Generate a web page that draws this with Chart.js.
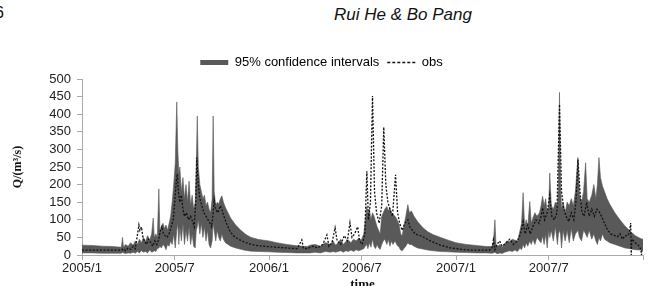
<!DOCTYPE html>
<html>
<head>
<meta charset="utf-8">
<script src="https://cdn.jsdelivr.net/npm/chart.js@4.4.0/dist/chart.umd.min.js"></script>
<style>
  html, body { margin: 0; padding: 0; background: #fff; overflow: hidden; }
  #wrap { position: relative; width: 649px; height: 286px; overflow: hidden; }
  #page { position: absolute; left: -5px; top: 4px; font: 16px "Liberation Sans", Arial, sans-serif; color: #111; }
  #header { position: absolute; left: 334px; top: 5px; font: italic 17px "Liberation Sans", Arial, sans-serif; color: #111; }
  canvas { position: absolute; left: 0; top: 0; }
</style>
</head>
<body>
<div id="wrap">
  <div id="page">6</div>
  <div id="header">Rui He &amp; Bo Pang</div>
  <canvas id="chart" width="649" height="302"></canvas>
</div>
<script>
// days counted from 2005/1/1
const tickDays = [0, 181, 365, 546, 730, 911, 1095];
const tickLabels = ['2005/1', '2005/7', '2006/1', '2006/7', '2007/1', '2007/7', ''];

// 95% confidence band (upper / lower bound)
const bandDays = [
  0, 20, 40, 60, 77, 79, 81, 85, 90, 95, 100, 104, 108, 112, 116, 120, 124, 128, 132, 136,
  139, 141, 144, 147, 150, 152, 155, 158, 161, 164, 167, 170, 173, 176, 179, 182, 185, 187, 189, 191,
  194, 197, 200, 203, 206, 209, 212, 215, 218, 221, 223, 225, 227, 230, 233, 236, 239, 242, 245, 248,
  251, 254, 256, 258, 261, 264, 267, 270, 273, 276, 280, 285, 290, 300, 310, 320, 330, 345, 365, 380,
  400, 420, 440,
  445, 455, 465, 475, 485, 490, 495, 500, 505, 510, 515, 520, 525, 530, 535, 540, 545, 550, 553, 556,
  558, 561, 564, 567, 570, 573, 576, 579, 582, 585, 588, 591, 595, 598, 601, 604, 607, 611, 615, 619,
  622, 625, 628, 632, 636, 639, 643, 648, 655, 665, 675, 685, 700, 715, 730, 750, 770, 790,
  800, 803, 806, 808, 812, 816, 820, 825, 830, 835, 840, 845, 850, 855, 858, 861, 864, 867, 870, 874,
  877, 880, 884, 888, 893, 896, 899, 902, 905, 908, 911, 913, 916, 920, 924, 928, 930, 932, 934, 936,
  939, 943, 947, 951, 955, 959, 963, 968, 971, 975, 979, 983, 986, 990, 995, 999, 1003, 1006, 1009, 1012,
  1016, 1020, 1025, 1030, 1040, 1050, 1060, 1070, 1080, 1090, 1095
];
const upper = [
  28, 27, 25, 24, 22, 50, 22, 30, 25, 35, 28, 40, 30, 45, 35, 50, 38, 55, 42, 60,
  105, 50, 60, 50, 188, 70, 80, 90, 75, 85, 70, 90, 110, 150, 200, 260, 435, 300, 230, 250,
  180, 220, 160, 200, 150, 210, 140, 170, 130, 150, 250, 395, 250, 200, 180, 160, 170, 140, 150, 130,
  120, 160, 395, 180, 140, 150, 145, 160, 168, 150, 135, 120, 105, 85, 70, 58, 50, 44, 40, 35,
  30, 26, 24,
  28, 30, 25, 35, 30, 40, 28, 35, 45, 30, 38, 42, 35, 45, 40, 48, 42, 60, 100, 138,
  110, 130, 100, 120, 110, 95, 80, 70, 60, 110, 120, 130, 138, 125, 134, 120, 115, 110, 100, 85,
  60, 55, 80, 110, 143, 120, 125, 110, 95, 78, 66, 58, 50, 42, 35, 30, 27, 24,
  24, 35, 100, 30, 25, 30, 22, 32, 40, 38, 45, 42, 40, 70, 90, 177, 80, 100, 80, 152,
  90, 105, 120, 110, 120, 140, 167, 140, 160, 120, 140, 233, 140, 130, 150, 140, 200, 462, 200, 130,
  150, 120, 150, 140, 160, 140, 180, 277, 170, 150, 180, 262, 160, 150, 170, 200, 160, 200, 277, 220,
  195, 180, 160, 145, 120, 100, 82, 68, 55, 47, 45
];
const lower = [
  6, 6, 5, 5, 5, 8, 6, 4, 6, 5, 8, 5, 10, 6, 12, 8, 10, 6, 14, 8,
  10, 12, 10, 18, 20, 25, 20, 30, 25, 15, 30, 25, 40, 30, 60, 20, 70, 90, 30, 80,
  40, 90, 30, 70, 40, 80, 30, 60, 25, 20, 70, 80, 100, 60, 90, 50, 80, 40, 70, 30,
  20, 40, 90, 70, 40, 70, 50, 40, 60, 45, 35, 30, 25, 20, 16, 13, 11, 10, 9, 8,
  7, 6, 6,
  6, 8, 6, 10, 8, 10, 8, 10, 12, 8, 12, 10, 14, 10, 15, 12, 15, 18, 25, 30,
  18, 35, 22, 45, 25, 18, 30, 20, 16, 30, 40, 45, 30, 45, 25, 40, 30, 40, 28, 22,
  14, 12, 18, 25, 35, 30, 30, 25, 20, 17, 14, 12, 10, 9, 8, 7, 6, 6,
  5, 6, 8, 5, 4, 6, 4, 8, 10, 12, 10, 14, 10, 20, 15, 30, 20, 35, 25, 40,
  30, 45, 30, 50, 40, 35, 55, 30, 60, 20, 70, 50, 70, 40, 80, 30, 60, 70, 60, 20,
  70, 40, 70, 35, 75, 40, 60, 70, 50, 40, 70, 60, 50, 70, 45, 60, 40, 30, 50, 40,
  60, 45, 40, 35, 30, 25, 20, 18, 15, 14, 14
];

// observed discharge
const obsDays = [
  0, 30, 60, 78, 80, 85, 90, 95, 100, 104, 108, 111, 113, 116, 119, 122, 126, 130, 134, 138,
  142, 146, 150, 153, 156, 159, 162, 166, 170, 174, 178, 181, 184, 186, 188, 191, 194, 197, 200, 204,
  208, 212, 216, 219, 222, 224, 227, 230, 234, 238, 242, 246, 250, 253, 256, 258, 261, 265, 270, 273,
  277, 282, 288, 295, 305, 315, 330, 345, 361, 380, 400, 420, 429, 432, 440, 450, 460, 470, 478, 482,
  488, 494, 498, 505, 512, 518, 523, 527, 532, 538, 542, 547, 552, 556, 559, 563, 567, 571, 575, 580,
  585, 589, 593, 597, 601, 606, 612, 616, 620, 625, 630, 636, 640, 650, 665, 680, 699, 720, 740, 760,
  780, 796, 800, 803, 806, 810, 815, 820, 828, 835, 842, 850, 856, 861, 865, 870, 875, 880, 886, 892,
  896, 899, 903, 908, 913, 917, 922, 927, 932, 936, 940, 945, 950, 955, 960, 964, 968, 972, 976, 980,
  985, 990, 995, 1000, 1005, 1009, 1014, 1020, 1026, 1032, 1040, 1045, 1050, 1055, 1060, 1066, 1069, 1071, 1072, 1073,
  1080, 1088, 1091, 1092, 1093, 1095
];
const obs = [
  14, 14, 14, 14, 18, 12, 20, 16, 25, 18, 55, 85, 70, 80, 50, 40, 30, 45, 35, 25,
  40, 30, 45, 70, 81, 60, 55, 50, 60, 80, 100, 150, 210, 230, 180, 150, 170, 130, 110, 120,
  100, 110, 95, 80, 150, 277, 200, 160, 140, 120, 110, 100, 90, 80, 120, 157, 130, 120, 140, 130,
  110, 90, 70, 55, 45, 38, 30, 26, 24, 22, 20, 18, 43, 20, 18, 25, 20, 30, 57, 25,
  35, 77, 40, 30, 55, 40, 91, 50, 60, 80, 40, 30, 60, 238, 100, 150, 452, 180, 120, 90,
  140, 363, 200, 150, 130, 110, 228, 120, 90, 70, 90, 100, 80, 60, 52, 40, 28, 20, 16, 14,
  14, 14, 20, 43, 15, 30, 40, 25, 35, 45, 30, 40, 60, 95, 60, 85, 60, 80, 100, 90,
  110, 134, 100, 120, 171, 110, 100, 120, 428, 180, 134, 110, 95, 120, 100, 150, 271, 180, 120, 110,
  150, 110, 130, 110, 130, 124, 110, 90, 71, 60, 55, 52, 60, 45, 55, 55, 70, 91, 0, 45,
  35, 25, 14, 0, 15, 14
];

const bandColor = '#595959';
const sans = '"Liberation Sans", Arial, sans-serif';
const serif = '"Liberation Serif", "Times New Roman", serif';

const toPoints = (xs, ys) => xs.map((d, i) => ({ x: d, y: ys[i] }));

new Chart(document.getElementById('chart'), {
  type: 'line',
  data: {
    datasets: [
      {
        label: 'obs',
        data: toPoints(obsDays, obs),
        borderColor: '#111',
        borderWidth: 1.3,
        borderDash: [2, 1.6],
        pointRadius: 0,
        fill: false,
        order: 0
      },
      {
        label: '95% confidence intervals',
        data: toPoints(bandDays, upper),
        borderColor: bandColor,
        borderWidth: 0.6,
        backgroundColor: bandColor,
        pointRadius: 0,
        fill: '+1',
        order: 1
      },
      {
        label: 'lower',
        data: toPoints(bandDays, lower),
        borderColor: bandColor,
        borderWidth: 0.6,
        pointRadius: 0,
        fill: false,
        order: 2
      }
    ]
  },
  options: {
    responsive: false,
    devicePixelRatio: 1,
    animation: false,
    layout: { padding: { top: 48, right: 6, bottom: 0, left: 0 } },
    plugins: {
      tooltip: { enabled: false },
      legend: {
        position: 'top',
        labels: {
          usePointStyle: true,
          pointStyleWidth: 28,
          boxHeight: 5,
          padding: 8,
          color: '#222',
          font: { family: sans, size: 13 },
          generateLabels: () => [
            { text: '95% confidence intervals', fillStyle: bandColor, strokeStyle: bandColor, lineWidth: 0, pointStyle: 'rect', datasetIndex: 1 },
            { text: 'obs', fillStyle: 'rgba(0,0,0,0)', strokeStyle: '#111', lineWidth: 1.3, lineDash: [3, 2], pointStyle: 'line', datasetIndex: 0 }
          ]
        }
      }
    },
    scales: {
      x: {
        type: 'linear',
        min: 0,
        max: 1095,
        afterBuildTicks: s => { s.ticks = tickDays.map(v => ({ value: v })); },
        afterFit: s => { s.height = 47; },
        ticks: {
          autoSkip: false,
          maxRotation: 0,
          padding: 1,
          color: '#222',
          font: { family: sans, size: 13 },
          callback: v => { const i = tickDays.indexOf(v); return i < 0 ? '' : tickLabels[i]; }
        },
        grid: { drawOnChartArea: false, tickLength: 5, color: '#aaa' },
        border: { color: '#aaa' },
        title: {
          display: true,
          text: 'time',
          color: '#111',
          font: { family: serif, size: 13, weight: 'bold' },
          padding: { top: 0, bottom: 10 }
        }
      },
      y: {
        min: 0,
        max: 500,
        afterFit: s => { s.width = 82; },
        ticks: { stepSize: 50, autoSkip: false, padding: 6, color: '#222', font: { family: sans, size: 13 } },
        grid: { drawOnChartArea: false, tickLength: 5, color: '#aaa' },
        border: { color: '#aaa' },
        title: {
          display: true,
          text: 'Q/(m³/s)',
          color: '#111',
          font: { family: serif, size: 12, weight: 'bold' },
          padding: { top: 11, bottom: 0 }
        }
      }
    }
  }
});
</script>
</body>
</html>
